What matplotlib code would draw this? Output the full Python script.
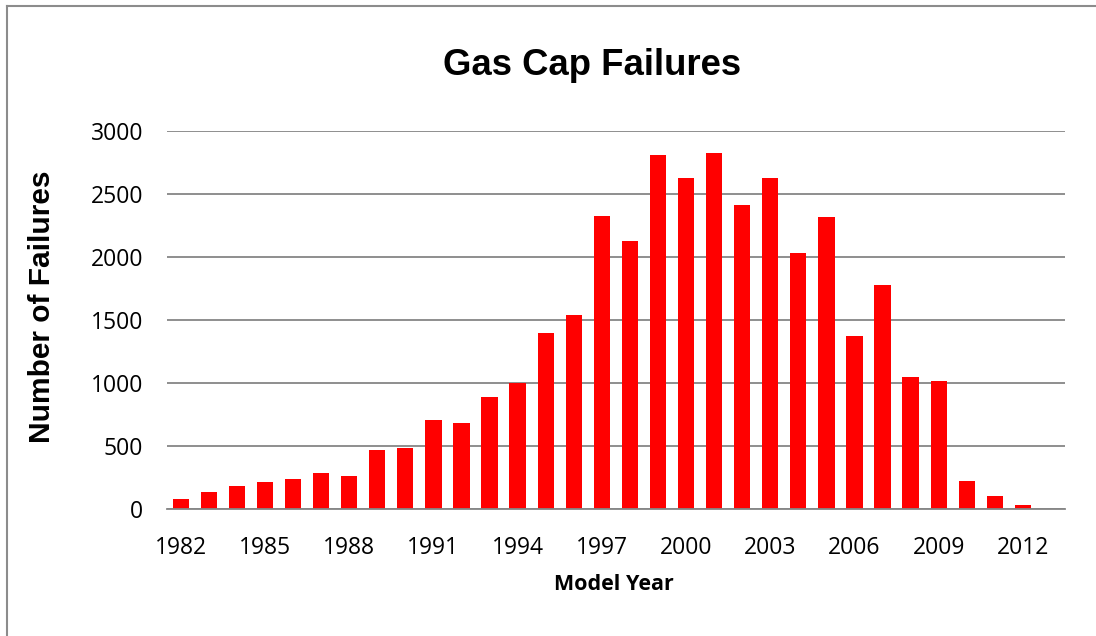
import matplotlib.pyplot as plt
import numpy as np

# model years and failure counts
years = list(range(1982, 2013))
failures = [82, 137, 182, 214, 240, 288, 264, 473, 488, 708,
            681, 892, 1003, 1397, 1542, 2328, 2123, 2806, 2622, 2820,
            2408, 2624, 2033, 2318, 1375, 1777, 1045, 1019, 222, 103, 34]
tick_years = list(range(1982, 2013, 3))
y_ticks = [0, 500, 1000, 1500, 2000, 2500, 3000]

W, H = 1096, 636
fig = plt.figure(figsize=(W / 100, H / 100), dpi=100)

# outer chart frame: only the top and left edges show in the reference
fig.add_artist(plt.Line2D([7 / W, 1.0], [1 - 6 / H, 1 - 6 / H], transform=fig.transFigure,
                          color='#8c8c8c', linewidth=1.5))
fig.add_artist(plt.Line2D([7 / W, 7 / W], [0.0, 1 - 6 / H], transform=fig.transFigure,
                          color='#8c8c8c', linewidth=1.5))

ax = fig.add_axes([166.7 / W, 1 - 509.3 / H, (1065 - 166.7) / W, (509.3 - 130.7) / H])

ax.bar(years, failures, width=0.58, color='#ff0000', zorder=3)

ax.set_xlim(1981.5, 2013.5)
ax.set_ylim(0, 3000)
ax.set_yticks(y_ticks)
ax.set_xticks(tick_years)
ax.grid(axis='y', color='#868686', linewidth=1.3, zorder=0)
ax.set_axisbelow(True)

for s in ['top', 'right', 'left']:
    ax.spines[s].set_visible(False)
ax.spines['bottom'].set_color('#868686')
ax.spines['bottom'].set_linewidth(1.3)
ax.spines['bottom'].set_zorder(4)

ax.tick_params(axis='both', length=0, labelsize=16.5)
ax.tick_params(axis='y', pad=17)
ax.tick_params(axis='x', pad=19)
for lab in ax.get_xticklabels() + ax.get_yticklabels():
    lab.set_fontfamily('Open Sans')

fig.text(614 / W, 1 - 584 / H, 'Model Year', ha='center', va='center',
         fontsize=15.5, fontweight='bold', family='Open Sans')
fig.text(42.5 / W, 1 - 307 / H, 'Number of Failures', ha='center', va='center', rotation=90,
         fontsize=21.5, fontweight='bold', family='Liberation Sans')
fig.text(591.7 / W, 1 - 65.7 / H, 'Gas Cap Failures', ha='center', va='center',
         fontsize=26.3, fontweight='bold', family='Liberation Sans')

fig.savefig('out.png', dpi=100)
